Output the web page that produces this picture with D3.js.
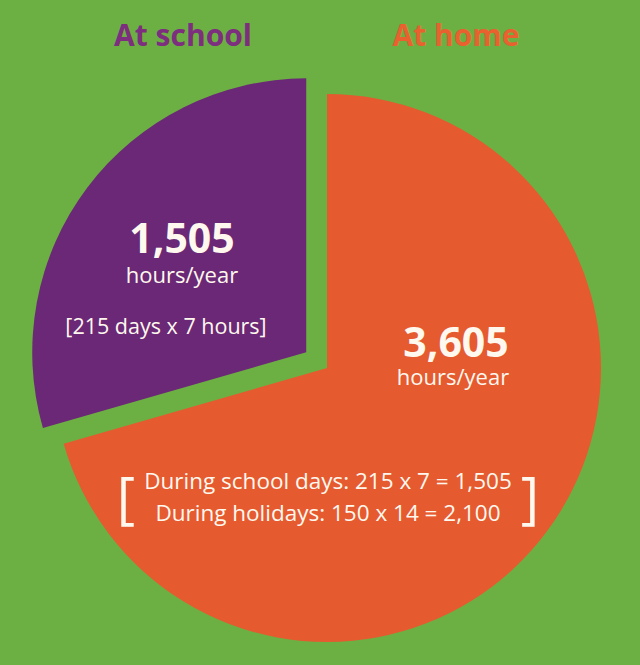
<!DOCTYPE html>
<html><head><meta charset="utf-8">
<script src="https://cdn.jsdelivr.net/npm/d3@7"></script>
<style>html,body{margin:0;padding:0;background:#6CB043;}svg{display:block;}</style>
</head><body>
<svg id="chart" width="640" height="665"></svg>
<script>
const categories = ["At school", "At home"];
const values = [1505, 3605];
const valueLabels = ["1,505", "3,605"];
const unitLabel = "hours/year";
const schoolNote = "[215 days x 7 hours]";
const homeNotes = ["During school days: 215 x 7 = 1,505", "During holidays: 150 x 14 = 2,100"];
const colors = ["#6B2876", "#E65A30"];
const titleColors = ["#7E2E7F", "#E8612F"];

const W = 640, H = 665;
const cx = 327, cy = 368, R = 274, explode = 26;
const svg = d3.select("#chart");
svg.append("rect").attr("width", W).attr("height", H).attr("fill", "#6CB043");

const total = d3.sum(values);
const a0 = 2 * Math.PI * values[0] / total;
const pie = d3.pie().sort(null).value(d => d).startAngle(-a0).endAngle(2 * Math.PI - a0);
const arcs = pie(values);
const arc = d3.arc().innerRadius(0).outerRadius(R);

const g = svg.append("g").attr("transform", `translate(${cx},${cy})`);
g.selectAll("path").data(arcs).join("path")
  .attr("d", arc)
  .attr("fill", (d, i) => colors[i])
  .attr("transform", (d, i) => {
    if (i !== 0) return null;
    const m = (d.startAngle + d.endAngle) / 2;
    return `translate(${Math.sin(m) * explode},${-Math.cos(m) * explode})`;
  });

const font = "'Open Sans', sans-serif";
const txt = "#FFF8EE";
// titles
const titleX = [183, 456];
svg.selectAll("text.title").data(categories).join("text")
  .attr("class", "title")
  .attr("x", (d, i) => titleX[i]).attr("y", 46)
  .attr("text-anchor", "middle")
  .attr("font-family", font).attr("font-weight", 700).attr("font-size", 30)
  .attr("fill", (d, i) => titleColors[i])
  .text(d => d);

// School labels
svg.append("text").attr("x", 182).attr("y", 253).attr("text-anchor", "middle")
  .attr("font-family", font).attr("font-weight", 700).attr("font-size", 41).attr("fill", txt)
  .text(valueLabels[0]);
svg.append("text").attr("x", 182).attr("y", 283).attr("text-anchor", "middle")
  .attr("font-family", font).attr("font-size", 22).attr("fill", txt)
  .text(unitLabel);
svg.append("text").attr("x", 166).attr("y", 334).attr("text-anchor", "middle")
  .attr("font-family", font).attr("font-size", 21.5).attr("fill", txt)
  .text(schoolNote);

// Home labels
svg.append("text").attr("x", 456).attr("y", 357).attr("text-anchor", "middle")
  .attr("font-family", font).attr("font-weight", 700).attr("font-size", 41).attr("fill", txt)
  .text(valueLabels[1]);
svg.append("text").attr("x", 453).attr("y", 385).attr("text-anchor", "middle")
  .attr("font-family", font).attr("font-size", 22).attr("fill", txt)
  .text(unitLabel);
svg.selectAll("text.note").data(homeNotes).join("text")
  .attr("class", "note")
  .attr("x", 328).attr("y", (d, i) => 489 + i * 32)
  .attr("text-anchor", "middle")
  .attr("font-family", font).attr("font-size", 22.5).attr("fill", txt)
  .text(d => d);
svg.append("text").attr("x", 126).attr("y", 518).attr("text-anchor", "middle")
  .attr("font-family", font).attr("font-weight", 400).attr("font-size", 56).attr("fill", txt)
  .text("[");
svg.append("text").attr("x", 530).attr("y", 518).attr("text-anchor", "middle")
  .attr("font-family", font).attr("font-weight", 400).attr("font-size", 56).attr("fill", txt)
  .text("]");
</script>
</body></html>
